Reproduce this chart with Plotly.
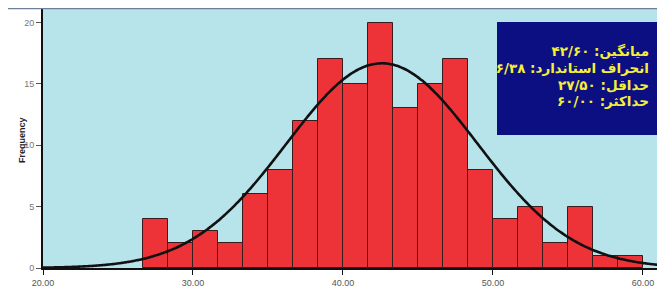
import numpy as np
import plotly.graph_objects as go

# Histogram data
bin_start = 80 / 3          # 26.67
bin_width = 5 / 3           # 1.667
counts = [4, 2, 3, 2, 6, 8, 12, 17, 15, 20, 13, 15, 17, 8, 4, 5, 2, 5, 1, 1]

# Summary statistics shown in the box
mean_val = 42.60
sd_val = 6.38
min_val = 27.50
max_val = 60.00
stats_lines = [
    "میانگین: ۴۲/۶۰",
    "انحراف استاندارد: ۶/۳۸",
    "حداقل: ۲۷/۵۰",
    "حداکثر: ۶۰/۰۰",
]

x_ticks = [20, 30, 40, 50, 60]
y_ticks = [0, 5, 10, 15, 20]
y_title = "Frequency"

n_total = sum(counts)
centers = [bin_start + (i + 0.5) * bin_width for i in range(len(counts))]

# Fitted normal curve from the stated mean / sd
xc = np.linspace(20, 61.5, 300)
yc = n_total * bin_width / (sd_val * np.sqrt(2 * np.pi)) * np.exp(-0.5 * ((xc - mean_val) / sd_val) ** 2)

W, H = 657, 280
ML, MR, MT, MB = 35, 0, 1, 20
PW, PH = W - ML - MR, H - MT - MB


def px(xp):
    return (xp - ML) / PW


def py(yp):
    return (H - MB - yp) / PH


fig = go.Figure()
fig.add_trace(go.Bar(
    x=centers, y=counts, width=bin_width,
    marker=dict(color="#ee3338", line=dict(color="#3a1c1c", width=1)),
    showlegend=False, hoverinfo="x+y",
))
fig.add_trace(go.Scatter(
    x=xc, y=yc, mode="lines",
    line=dict(color="#111111", width=2.6, shape="spline"),
    showlegend=False, hoverinfo="skip",
))

# Stats text, drawn as a text trace on an overlay unit axis
line_y_px = [45, 62, 79, 95]
fig.add_trace(go.Scatter(
    x=[px(641)] * len(stats_lines), y=[py(v) for v in line_y_px],
    mode="text", text=stats_lines, textposition="middle left",
    textfont=dict(family="DejaVu Sans, sans-serif", size=13.5, color="#f5ef3a", weight="bold"),
    xaxis="x2", yaxis="y2", showlegend=False, hoverinfo="skip",
))

fig.update_layout(
    width=W, height=H,
    margin=dict(l=ML, r=MR, t=MT, b=MB),
    paper_bgcolor="white",
    plot_bgcolor="#b6e4ea",
    bargap=0,
    font=dict(family="Liberation Sans, Arial, sans-serif", size=10, color="#666666"),
    xaxis=dict(
        range=[20, 61.47], tickvals=x_ticks, tickformat=".2f",
        showgrid=False, zeroline=False,
        showline=True, linecolor="#111111", linewidth=1.5,
        ticks="outside", ticklen=5, tickcolor="#111111", tickwidth=1,
        tickfont=dict(size=9, color="#555555"),
    ),
    yaxis=dict(
        range=[0, 21.1], tickvals=y_ticks,
        showgrid=False, zeroline=False,
        showline=True, linecolor="#111111", linewidth=2,
        ticks="outside", ticklen=5, tickcolor="#555555", tickwidth=1,
        tickfont=dict(size=9, color="#777777"),
    ),
    xaxis2=dict(range=[0, 1], overlaying="x", visible=False, fixedrange=True),
    yaxis2=dict(range=[0, 1], overlaying="y", visible=False, fixedrange=True),
)

# Top border line
fig.add_shape(type="line", xref="paper", yref="paper",
              x0=px(0), x1=1, y0=py(0.5), y1=py(0.5),
              line=dict(color="#6f7f9a", width=1.5))

# Stats box (below traces so the text sits on top)
fig.add_shape(type="rect", xref="paper", yref="paper",
              x0=px(489), x1=1.0,
              y0=py(127), y1=py(14),
              fillcolor="#0c0f82", line=dict(width=0), layer="below")

# Y axis title
fig.add_annotation(
    x=px(14), y=py(132), xref="paper", yref="paper",
    xanchor="center", yanchor="middle", showarrow=False, textangle=-90,
    text="<b>" + y_title + "</b>",
    font=dict(family="Liberation Sans, Arial, sans-serif", size=9, color="#222222"),
)

fig.write_html("out.html")
